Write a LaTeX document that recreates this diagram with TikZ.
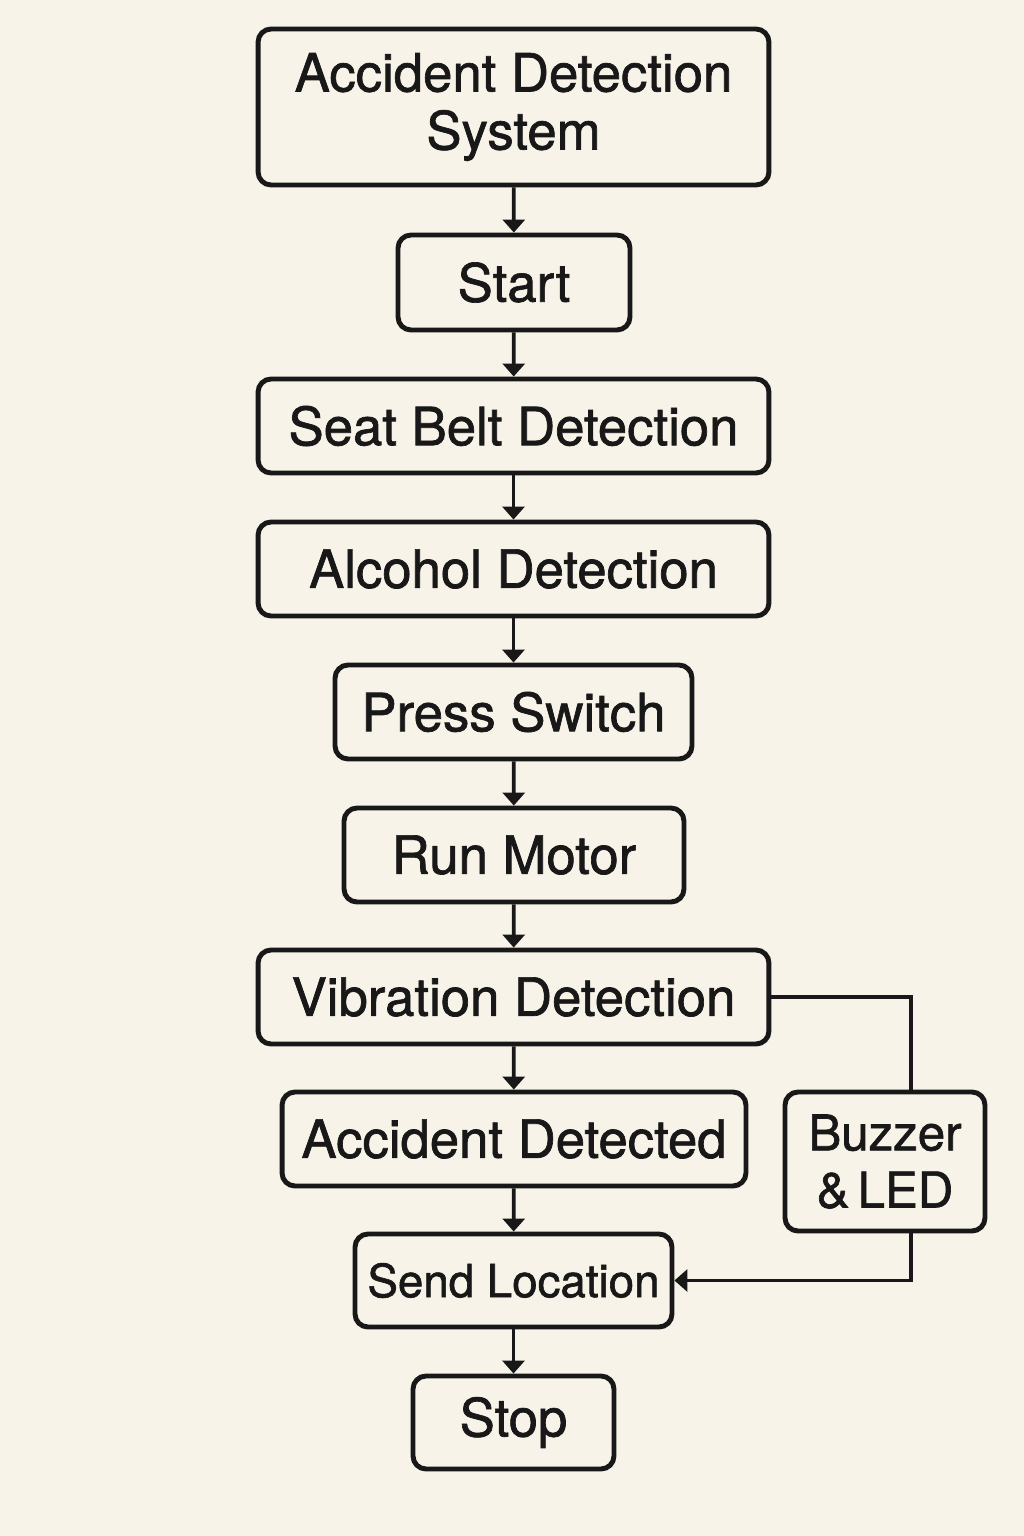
\documentclass[tikz,border=0pt]{standalone}
\usepackage{fontspec}
\setmainfont{TeX Gyre Heros}[FakeBold=1.3]
\usepackage{tikz}
\usetikzlibrary{arrows.meta}

\definecolor{paper}{RGB}{248,243,233}
\definecolor{ink}{RGB}{24,24,24}

\tikzset{
  box/.style = {draw = ink, text = ink, line width = 2.8pt, rounded corners = 0.26cm,
    align = center, inner sep = 2pt, font = \fontsize{30}{31.5}\selectfont},
  arr/.style = {draw = ink, line width = 2.1pt, -{Triangle[length = 0.26cm, width = 0.44cm]}},
  link/.style = {draw = ink, line width = 2.1pt},
}

\begin{document}
\begin{tikzpicture}[x = 0.02cm, y = -0.02cm]

\fill[paper] (0,0) rectangle (1024,1536);
      \node[box, minimum width = 10.22cm, minimum height = 3.12cm, font = \fontsize{30}{33}\selectfont] (title) at (513.5,107) {Accident Detection\\ System};
      \node[box, minimum width = 4.64cm, minimum height = 1.9cm] (start) at (514,282.5) {Start};
      \node[box, minimum width = 10.22cm, minimum height = 1.88cm] (seat) at (513.5,426) {Seat Belt Detection};
      \node[box, minimum width = 10.22cm, minimum height = 1.88cm] (alcohol) at (513.5,569) {Alcohol Detection};
      \node[box, minimum width = 7.14cm, minimum height = 1.88cm] (press) at (513.5,712) {Press Switch};
      \node[box, minimum width = 6.8cm, minimum height = 1.88cm] (motor) at (514,855) {Run Motor};
      \node[box, minimum width = 10.22cm, minimum height = 1.88cm] (vibration) at (513.5,997) {Vibration Detection};
      \node[box, minimum width = 9.28cm, minimum height = 1.88cm] (detected) at (514,1139) {Accident Detected};
      \node[box, minimum width = 4cm, minimum height = 2.78cm, font = \fontsize{28}{32.5}\selectfont] (buzzer) at (885,1161.5) {Buzzer\\ \&\,LED};
      \node[box, minimum width = 6.34cm, minimum height = 1.86cm, font = \fontsize{26}{30}\selectfont] (send) at (513.5,1280.5) {Send Location};
      \node[box, minimum width = 4.02cm, minimum height = 1.86cm] (stop) at (513.5,1422.5) {Stop};

\draw[arr] (title) -- (start);
\draw[arr] (start) -- (seat);
\draw[arr] (seat) -- (alcohol);
\draw[arr] (alcohol) -- (press);
\draw[arr] (press) -- (motor);
\draw[arr] (motor) -- (vibration);
\draw[arr] (vibration) -- (detected);
\draw[arr] (detected) -- (send);
\draw[arr] (send) -- (stop);
\draw[link] (vibration.east) -| ([xshift = 0.52cm]buzzer.north);
\draw[arr] ([xshift = 0.52cm]buzzer.south) |- (send.east);
\end{tikzpicture}
\end{document}
